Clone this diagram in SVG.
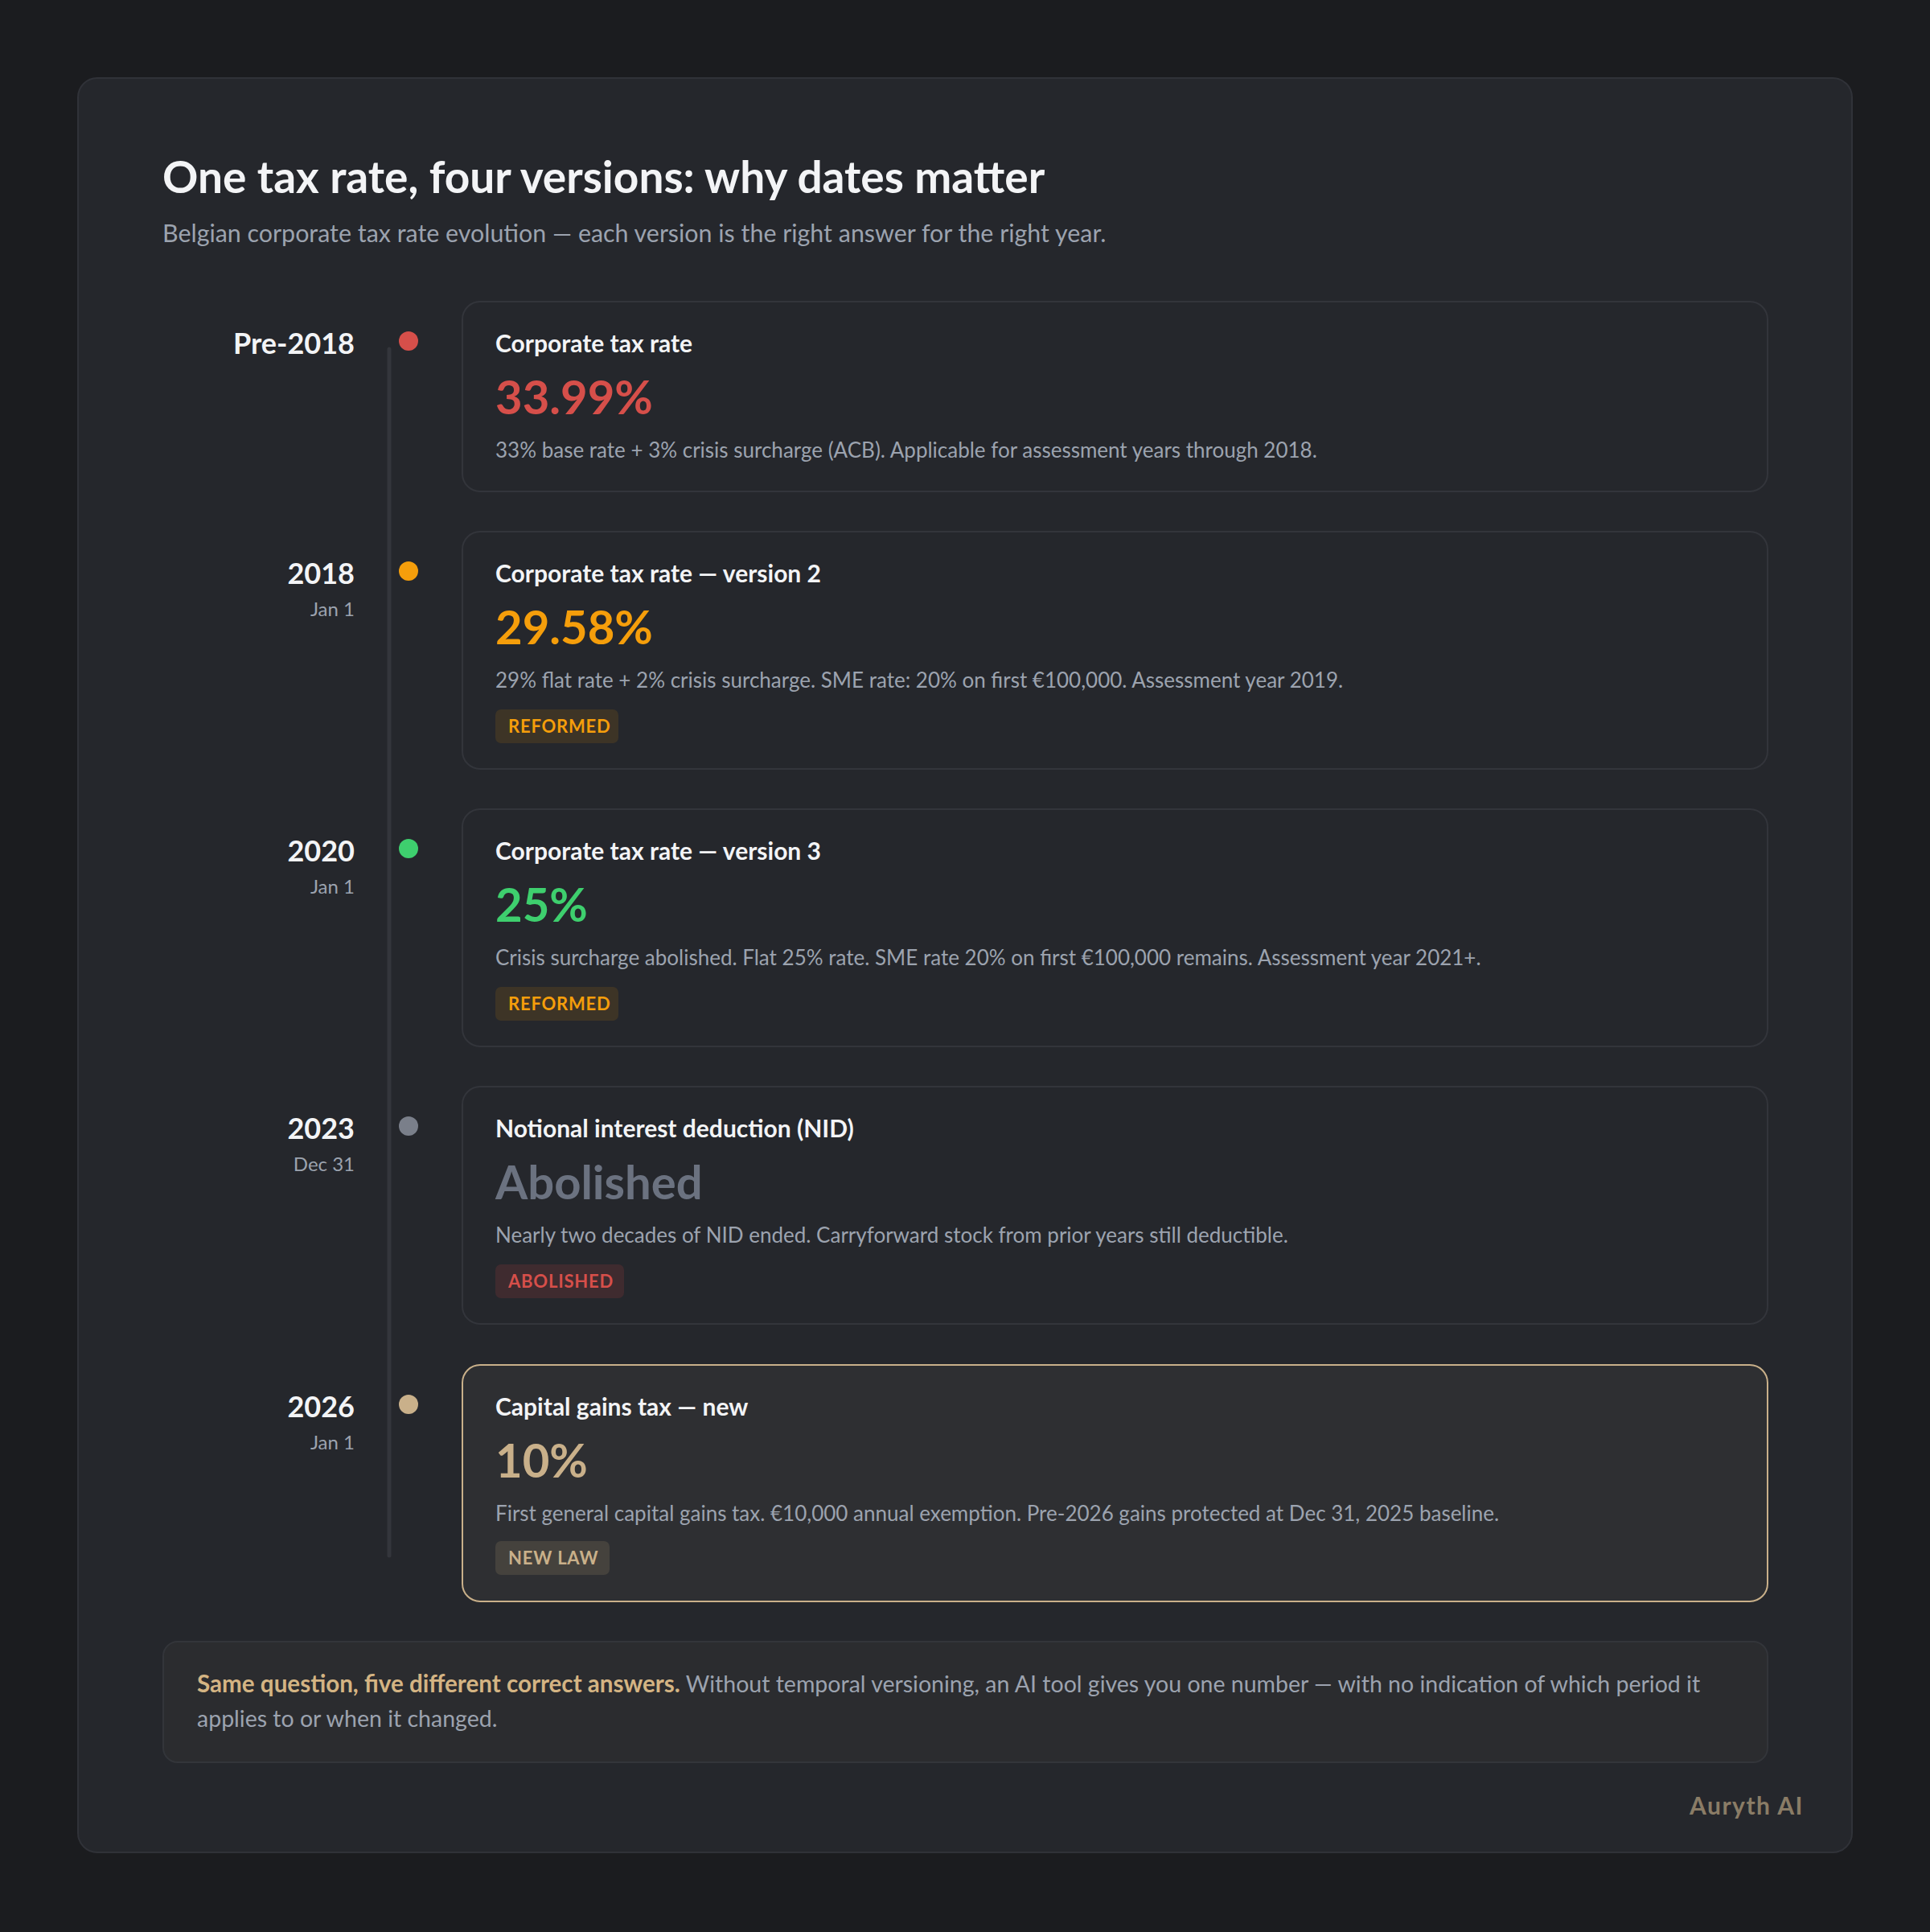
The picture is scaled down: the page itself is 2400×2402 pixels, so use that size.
<svg xmlns="http://www.w3.org/2000/svg" width="2400" height="2402" viewBox="0 0 2400 2402">
<style>
text{font-family:Lato,"Liberation Sans",sans-serif}
.title{font-size:55px;font-weight:700;fill:#f3f4f6}
.sub{font-size:30.4px;fill:#9ca3af}
.year{font-size:36px;font-weight:700;fill:#f3f4f6;text-anchor:end}
.date{font-size:24px;fill:#9ca3af;text-anchor:end}
.card{fill:#25272c;stroke:#33353b;stroke-width:2}
.ctitle{font-size:30px;font-weight:700;fill:#f3f4f6}
.val{font-size:58px;font-weight:700}
.desc{font-size:26px;fill:#9ca3af}
.badge{font-size:22px;font-weight:700;letter-spacing:0.8px}
</style>
<rect x="0" y="0" width="2400" height="2402" fill="#1b1c1f"/>
<rect id="panel" x="97" y="97" width="2206" height="2206" rx="24" fill="#25272c" stroke="#303238" stroke-width="2"/>
<text class="title" x="202" y="240">One tax rate, four versions: why dates matter</text>
<text class="sub" x="202" y="301">Belgian corporate tax rate evolution — each version is the right answer for the right year.</text>

<g id="connectors">
<line x1="484" y1="434" x2="484" y2="1934" stroke="#34363c" stroke-width="5" stroke-linecap="round"/>
</g>

<g id="node-pre2018">
<text class="year" x="441" y="440">Pre-2018</text>
<circle cx="508" cy="424" r="12" fill="#d64f4a"/>
<rect class="card" x="575" y="375" width="1623" height="236" rx="22"/>
<text class="ctitle" x="616" y="438">Corporate tax rate</text>
<text class="val" x="616" y="515" fill="#d64f4a">33.99%</text>
<text class="desc" x="616" y="569">33% base rate + 3% crisis surcharge (ACB). Applicable for assessment years through 2018.</text>
</g>

<g id="node-2018">
<text class="year" x="441" y="726">2018</text>
<text class="date" x="441" y="766">Jan 1</text>
<circle cx="508" cy="710" r="12" fill="#f59e0b"/>
<rect class="card" x="575" y="661" width="1623" height="295" rx="22"/>
<text class="ctitle" x="616" y="724">Corporate tax rate — version 2</text>
<text class="val" x="616" y="801" fill="#f59e0b">29.58%</text>
<text class="desc" x="616" y="855">29% flat rate + 2% crisis surcharge. SME rate: 20% on first €100,000. Assessment year 2019.</text>
<rect x="616" y="882" width="153" height="42" rx="7" fill="#3d3426"/>
<text class="badge" x="632" y="911" fill="#f59e0b">REFORMED</text>
</g>

<g id="node-2020">
<text class="year" x="441" y="1071">2020</text>
<text class="date" x="441" y="1111">Jan 1</text>
<circle cx="508" cy="1055" r="12" fill="#3ecf6e"/>
<rect class="card" x="575" y="1006" width="1623" height="295" rx="22"/>
<text class="ctitle" x="616" y="1069">Corporate tax rate — version 3</text>
<text class="val" x="616" y="1146" fill="#3ecf6e">25%</text>
<text class="desc" x="616" y="1200">Crisis surcharge abolished. Flat 25% rate. SME rate 20% on first €100,000 remains. Assessment year 2021+.</text>
<rect x="616" y="1227" width="153" height="42" rx="7" fill="#3d3426"/>
<text class="badge" x="632" y="1256" fill="#f59e0b">REFORMED</text>
</g>

<g id="node-2023">
<text class="year" x="441" y="1416">2023</text>
<text class="date" x="441" y="1456">Dec 31</text>
<circle cx="508" cy="1400" r="12" fill="#7a7f8a"/>
<rect class="card" x="575" y="1351" width="1623" height="295" rx="22"/>
<text class="ctitle" x="616" y="1414">Notional interest deduction (NID)</text>
<text class="val" x="616" y="1491" fill="#6b7280">Abolished</text>
<text class="desc" x="616" y="1545">Nearly two decades of NID ended. Carryforward stock from prior years still deductible.</text>
<rect x="616" y="1572" width="160" height="42" rx="7" fill="#3f2b2f"/>
<text class="badge" x="632" y="1601" fill="#d64f4a">ABOLISHED</text>
</g>

<g id="node-2026">
<text class="year" x="441" y="1762">2026</text>
<text class="date" x="441" y="1802">Jan 1</text>
<circle cx="508" cy="1746" r="12" fill="#c9b08a"/>
<rect x="575" y="1697" width="1623" height="294" rx="22" fill="#2e2f32" stroke="#c9b08a" stroke-width="2"/>
<text class="ctitle" x="616" y="1760">Capital gains tax — new</text>
<text class="val" x="616" y="1837" fill="#c9b08a">10%</text>
<text class="desc" x="616" y="1891">First general capital gains tax. €10,000 annual exemption. Pre-2026 gains protected at Dec 31, 2025 baseline.</text>
<rect x="616" y="1916" width="142" height="42" rx="7" fill="#45423d"/>
<text class="badge" x="632" y="1945" fill="#c9b08a">NEW LAW</text>
</g>

<g id="note">
<rect x="203" y="2041" width="1995" height="150" rx="18" fill="#2b2c2f" stroke="#33353a" stroke-width="2"/>
<text x="245" y="2104" font-size="28.5" fill="#9ca3af"><tspan font-weight="700" font-size="29.6" fill="#d4b483">Same question, five different correct answers.</tspan> Without temporal versioning, an AI tool gives you one number — with no indication of which period it</text>
<text x="245" y="2147" font-size="28.5" fill="#9ca3af">applies to or when it changed.</text>
</g>

<text x="2243" y="2256" font-size="30" font-weight="700" fill="#8a7c66" text-anchor="end" letter-spacing="1.5">Auryth AI</text>
</svg>
